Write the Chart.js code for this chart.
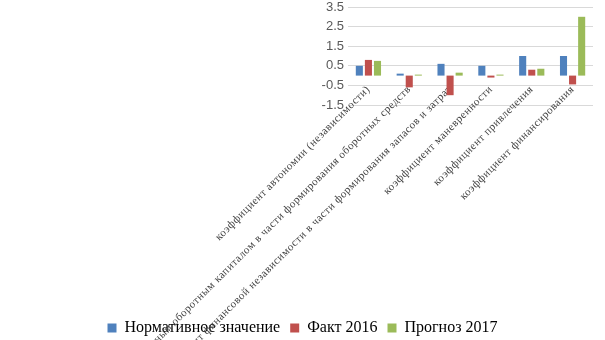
<!DOCTYPE html>
<html>
<head>
<meta charset="utf-8">
<script src="https://cdn.jsdelivr.net/npm/chart.js@4/dist/chart.umd.min.js"></script>
<style>
  html, body { margin: 0; padding: 0; background: #fff; }
  #wrap { width: 605px; height: 340px; }
</style>
</head>
<body>
<div id="wrap"><canvas id="ratios"></canvas></div>
<script>
// Показатели финансовой устойчивости
const categories = [
  'коэффициент автономии (независимости)',
  'коэффициент обеспеченности собственным оборотным капиталом в части формирования оборотных средств',
  'коэффициент финансовой независимости в части формирования запасов и затрат',
  'коэффициент маневренности',
  'коэффициент привлечения',
  'коэффициент финансирования'
];
const normValues = [0.5, 0.1, 0.6, 0.5, 1.0, 1.0];
const fact2016 = [0.8, -0.6, -1.0, -0.1, 0.3, -0.45];
const forecast2017 = [0.75, 0.05, 0.15, 0.05, 0.35, 3.0];
const yTickLabels = ['-1.5', '-0.5', '0.5', '1.5', '2.5', '3.5'];

const colors = { blue: '#4F81BD', red: '#C0504D', green: '#9BBB59', grid: '#D9D9D9', text: '#595959' };

const bar = (label, data, color) => ({
  label, data, backgroundColor: color, borderWidth: 0,
  categoryPercentage: 0.667, barPercentage: 0.78
});

new Chart(document.getElementById('ratios'), {
  type: 'bar',
  data: {
    labels: categories,
    datasets: [
      bar('Нормативное значение', normValues, colors.blue),
      bar('Факт 2016', fact2016, colors.red),
      bar('Прогноз 2017', forecast2017, colors.green)
    ]
  },
  options: {
    responsive: true,
    maintainAspectRatio: false,
    animation: false,
    layout: { padding: { top: 7, bottom: -6, left: 0, right: 0 } },
    plugins: {
      tooltip: { enabled: false },
      legend: {
        position: 'bottom',
        labels: {
          boxWidth: 9, boxHeight: 9, padding: 10, color: '#000',
          font: { family: 'Liberation Serif', size: 16 }
        }
      }
    },
    scales: {
      x: {
        grid: { display: false, drawTicks: false },
        border: { display: false },
        ticks: {
          autoSkip: false, minRotation: 45, maxRotation: 45, padding: -22,
          color: '#404040', font: { family: 'Liberation Serif', size: 11 }
        },
        afterFit(scale) {
          scale.height = 205;
          scale.paddingLeft = 0;
          scale.paddingRight = 12;
          // long labels run from the zero line down over the legend, so no clipping
          // and a little extra tracking on the category names
          const drawLabels = Object.getPrototypeOf(scale).drawLabels;
          scale._computeLabelArea = () => undefined;
          scale.drawLabels = function (area) {
            this.ctx.save();
            this.ctx.letterSpacing = '0.5px';
            drawLabels.call(this, area);
            this.ctx.restore();
          };
        }
      },
      y: {
        min: -1.5, max: 3.5,
        grid: { color: colors.grid, lineWidth: 1, drawTicks: false },
        border: { display: false },
        ticks: {
          stepSize: 0.5, padding: 4, color: colors.text,
          font: { family: 'Liberation Sans', size: 13 },
          callback(v) {
            const s = Number(v).toFixed(1);
            return yTickLabels.includes(s) ? s : '';
          }
        },
        afterFit(scale) {
          scale.width = 348;
          scale.paddingTop = 0;
          scale.paddingBottom = 0;
        }
      }
    }
  }
});
</script>
</body>
</html>
